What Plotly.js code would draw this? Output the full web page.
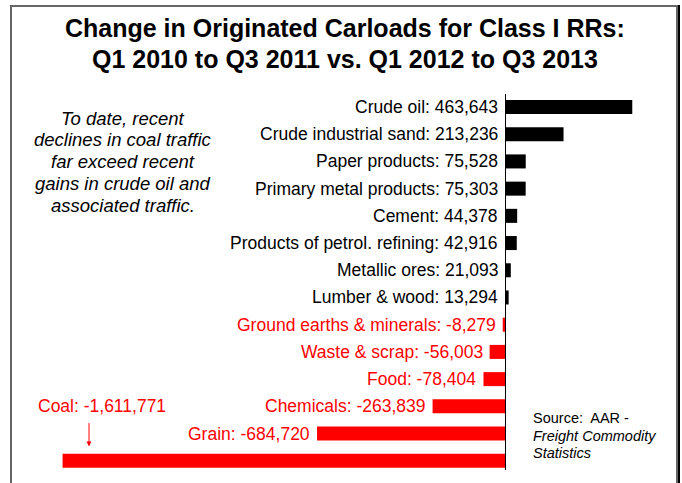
<!DOCTYPE html>
<html lang="en">
<head>
    <meta charset="UTF-8">
    <title>Change in Originated Carloads</title>
    <script src="https://cdn.plot.ly/plotly-3.0.1.min.js"></script>
    <style>
        body { margin: 0; background: white; }
        #plot { position: absolute; left: 0; top: 0; width: 682px; height: 483px; }
        #frame {
            position: absolute; left: 10px; top: 5px; width: 664px; height: 500px;
            border: 2px solid #666; border-bottom: none;
            box-shadow: 2px 0 0 #000;
            pointer-events: none;
        }
        html, body { overflow: hidden; }
    </style>
</head>
<body>
    <div id="plot"></div>
    <div id="frame"></div>
    <script>
        const categories = ['Crude oil', 'Crude industrial sand', 'Paper products', 'Primary metal products',
            'Cement', 'Products of petrol. refining', 'Metallic ores', 'Lumber & wood',
            'Ground earths & minerals', 'Waste & scrap', 'Food', 'Chemicals', 'Grain', 'Coal'];
        const changes = [463643, 213236, 75528, 75303, 44378, 42916, 21093, 13294,
            -8279, -56003, -78404, -263839, -684720, -1611771];

        const titleLines = ['Change in Originated Carloads for Class I RRs:', 'Q1 2010 to Q3 2011 vs. Q1 2012 to Q3 2013'];
        const noteLines = ['To date, recent', 'declines in coal traffic', 'far exceed recent',
            'gains in crude oil and', 'associated traffic.'];
        const sourceLines = ['Source:  AAR -', '<i>Freight Commodity</i>', '<i>Statistics</i>'];

        const fmt = v => v.toLocaleString('en-US');
        const barColor = v => v < 0 ? '#FF0000' : '#000000';

        const trace = {
            type: 'bar',
            orientation: 'h',
            x: changes,
            y: categories,
            width: 0.515,
            marker: {color: changes.map(barColor)},
            hoverinfo: 'y+x'
        };

        const annotations = [];
        // labels next to the bars (coal has its own callout)
        categories.forEach((c, i) => {
            if (c === 'Coal') return;
            annotations.push({
                x: Math.min(0, changes[i]), y: c, xref: 'x', yref: 'y',
                text: c + ': ' + fmt(changes[i]),
                xanchor: 'right', yanchor: 'middle', xshift: -5,
                showarrow: false,
                font: {size: 17.5, color: barColor(changes[i])}
            });
        });

        const coalIdx = categories.indexOf('Coal');
        annotations.push({
            x: 102, y: 406, xref: 'paper', yref: 'paper',
            text: 'Coal: ' + fmt(changes[coalIdx]),
            showarrow: false, xanchor: 'center', yanchor: 'middle',
            font: {size: 17.5, color: '#FF0000'}
        });

        titleLines.forEach((t, i) => annotations.push({
            x: 345, y: 28 + i * 31, text: '<b>' + t + '</b>', showarrow: false,
            xanchor: 'center', yanchor: 'middle',
            font: {size: 25, color: '#000'}
        }));
        noteLines.forEach((t, i) => annotations.push({
            x: 123, y: 118 + i * 21.8, text: '<i>' + t + '</i>', showarrow: false,
            xanchor: 'center', yanchor: 'middle',
            font: {size: 18.5, color: '#000'}
        }));
        sourceLines.forEach((t, i) => annotations.push({
            x: 531, y: 418 + i * 17.6, text: t, showarrow: false,
            xanchor: 'left', yanchor: 'middle',
            font: {size: 14.5, color: '#000'}
        }));

        // convert pixel placements of free text to paper coords
        const W = 682, H = 483, M = {l: 20, r: 20, t: 94, b: 13};
        const pw = W - M.l - M.r, ph = H - M.t - M.b;
        annotations.forEach(a => {
            if (a.xref === 'paper' || a.xref === undefined) {
                a.xref = 'paper'; a.yref = 'paper';
                a.x = (a.x - M.l) / pw;
                a.y = 1 - (a.y - M.t) / ph;
            }
        });

        // arrow pointing down to the coal bar
        annotations.push({
            x: (89 - M.l) / pw, y: coalIdx - 0.52, xref: 'paper', yref: 'y',
            ax: 0, ay: -25, text: '', showarrow: true,
            arrowhead: 2, arrowsize: 1, arrowwidth: 1, arrowcolor: '#FF0000'
        });

        const pxPerUnit = 0.0002745;
        const layout = {
            width: W, height: H,
            margin: M,
            showlegend: false,
            paper_bgcolor: 'rgba(0,0,0,0)',
            plot_bgcolor: 'rgba(0,0,0,0)',
            font: {family: 'Liberation Sans, Arial, sans-serif', color: '#000'},
            xaxis: {
                range: [(M.l - 505) / pxPerUnit, (W - M.r - 505) / pxPerUnit],
                showgrid: false, showticklabels: false, ticks: '',
                zeroline: true, zerolinecolor: '#000', zerolinewidth: 1
            },
            yaxis: {
                type: 'category',
                range: [13.34, -0.478],
                showgrid: false, showticklabels: false, ticks: '', zeroline: false
            },
            annotations: annotations
        };

        Plotly.newPlot('plot', [trace], layout, {displayModeBar: false, staticPlot: true});
    </script>
</body>
</html>
